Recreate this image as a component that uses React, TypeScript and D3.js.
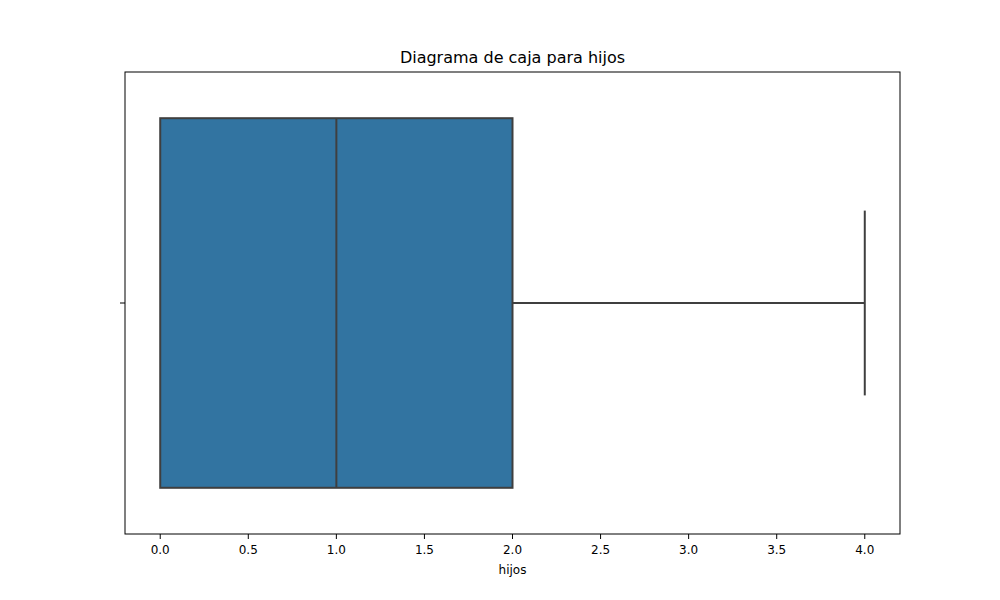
import * as d3 from "d3";

const varName = "hijos";
const title = "Diagrama de caja para hijos";
const stats = { min: 0, q1: 0, median: 1, q3: 2, max: 4 };
const xTicks = [0, 0.5, 1, 1.5, 2, 2.5, 3, 3.5, 4];

export default function App() {
  const W = 1000, H = 600;
  const m = { left: 125, right: 100, top: 72, bottom: 66 };
  const x = d3.scaleLinear().domain([-0.2, 4.2]).range([m.left, W - m.right]);
  const y = d3.scaleLinear().domain([-0.5, 0.5]).range([m.top, H - m.bottom]);
  const c = y(0);
  const boxTop = y(-0.4), boxBot = y(0.4);
  const capTop = y(-0.2), capBot = y(0.2);
  const stroke = "#3f3f3f";
  const font = "DejaVu Sans, sans-serif";
  return (
    <svg width={W} height={H} style={{ position: "absolute", left: 0, top: 0, background: "#fff" }}>
      <rect x={x(stats.q1)} y={boxTop} width={x(stats.q3) - x(stats.q1)} height={boxBot - boxTop}
        fill="#3274a1" stroke={stroke} strokeWidth={2} />
      <line x1={x(stats.median)} x2={x(stats.median)} y1={boxTop} y2={boxBot} stroke={stroke} strokeWidth={2} />
      <line x1={x(stats.q3)} x2={x(stats.max)} y1={c} y2={c} stroke={stroke} strokeWidth={2} />
      <line x1={x(stats.max)} x2={x(stats.max)} y1={capTop} y2={capBot} stroke={stroke} strokeWidth={2} />
      <rect x={m.left} y={m.top} width={W - m.left - m.right} height={H - m.top - m.bottom}
        fill="none" stroke="#000" strokeWidth={1} />
      <line x1={m.left - 5} x2={m.left} y1={c} y2={c} stroke="#000" />
      {xTicks.map((t) => (
        <g key={t}>
          <line x1={x(t)} x2={x(t)} y1={H - m.bottom} y2={H - m.bottom + 5} stroke="#000" />
          <text x={x(t)} y={H - m.bottom + 20} textAnchor="middle" fontFamily={font} fontSize={12}>{t.toFixed(1)}</text>
        </g>
      ))}
      <text x={(m.left + W - m.right) / 2} y={H - m.bottom + 40} textAnchor="middle" fontFamily={font} fontSize={12}>{varName}</text>
      <text x={(m.left + W - m.right) / 2} y={m.top - 9} textAnchor="middle" fontFamily={font} fontSize={16}>{title}</text>
    </svg>
  );
}
